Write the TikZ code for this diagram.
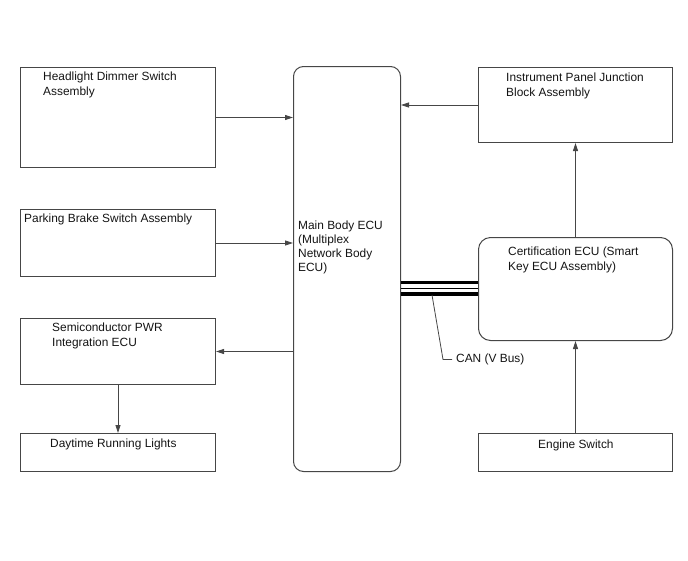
\documentclass[tikz,border=0pt]{standalone}
\usepackage{fontspec}
\setmainfont{Liberation Sans}
\usetikzlibrary{positioning, calc, arrows.meta}
\definecolor{clLine}{RGB}{ 70, 70, 70}
\definecolor{clText}{RGB}{ 20, 20, 20}
\tikzset{
  %% plain box
  blk/.style={
    rectangle, draw=clLine, line width=1pt,
    inner sep=0pt, anchor=north west
  },
  %% rounded box (ECUs)
  rblk/.style={blk, rounded corners=10pt},
  %% box caption (anchored on the baseline of its last line)
  txt/.style={
    anchor=base west, inner sep=0pt, align=left, text=clText,
    font=\fontsize{11.9}{15}\selectfont
  },
  %% arrows
  arr/.style={
    -{Triangle[length=8pt, width=5pt]},
    line width=0.8pt, color=clLine
  },
  bus/.style={line width=#1, color=black},
  lead/.style={line width=0.8pt, color=clLine}
}
\begin{document}
\begin{tikzpicture}[x=1pt, y=-1pt]

\useasboundingbox (0,0) rectangle (688,560);

%% ═══════════════════════════════════════════════════════════════
%%  LEFT COLUMN
%% ═══════════════════════════════════════════════════════════════

\node[blk, minimum width=195pt, minimum height=100pt] (head) at (20,67) {};
\node[txt] (headTxt) at (43,95.7) {Headlight Dimmer Switch\\Assembly};

\node[blk, minimum width=195pt, minimum height=67pt] (park) at (20,209) {};
\node[txt] (parkTxt) at (24,222.7) {Parking Brake Switch Assembly};

\node[blk, minimum width=195pt, minimum height=66pt] (semi) at (20,318) {};
\node[txt] (semiTxt) at (52,346.7) {Semiconductor PWR\\Integration ECU};

\node[blk, minimum width=195pt, minimum height=38pt] (day) at (20,433) {};
\node[txt] (dayTxt) at (50,447.7) {Daytime Running Lights};

%% ═══════════════════════════════════════════════════════════════
%%  MAIN BODY ECU (centre)
%% ═══════════════════════════════════════════════════════════════

\node[rblk, minimum width=107pt, minimum height=405pt] (main) at (293,66) {};
\node[txt, font=\fontsize{11.9}{14.2}\selectfont] (mainTxt) at (298,271.9)
  {Main Body ECU\\(Multiplex\\Network Body\\ECU)};

%% ═══════════════════════════════════════════════════════════════
%%  RIGHT COLUMN
%% ═══════════════════════════════════════════════════════════════

\node[blk, minimum width=194pt, minimum height=75pt] (inst) at (478,67) {};
\node[txt] (instTxt) at (506,96) {Instrument Panel Junction\\Block Assembly};

\node[rblk, rounded corners=12pt, minimum width=194pt, minimum height=103pt] (cert) at (478,237) {};
\node[txt] (certTxt) at (508,270.5) {Certification ECU (Smart\\Key ECU Assembly)};

\node[blk, minimum width=194pt, minimum height=38pt] (eng) at (478,433) {};
\node[txt] (engTxt) at (538,448.7) {Engine Switch};

%% ═══════════════════════════════════════════════════════════════
%%  ARROWS
%% ═══════════════════════════════════════════════════════════════

\draw[arr] (head.east) -- (head.east -| main.west);
\draw[arr] (park.east) -- (park.east -| main.west);
\draw[arr] (semi.east -| main.west) -- (semi.east);
\draw[arr] (semi.south) -- (day.north);

\draw[arr] (inst.west) -- (inst.west -| main.east);
\draw[arr] (cert.north) -- (inst.south);
\draw[arr] (eng.north) -- (cert.south);

%% ═══════════════════════════════════════════════════════════════
%%  CAN BUS
%% ═══════════════════════════════════════════════════════════════

\draw[bus=3.4pt] ($(cert.west)+(0,-6.3)$) -- ($(cert.west -| main.east)+(0,-6.3)$);
\draw[bus=1pt]   ($(cert.west)+(0,-0.3)$) -- ($(cert.west -| main.east)+(0,-0.3)$);
\draw[bus=3.4pt] ($(cert.west)+(0,5)$)    -- ($(cert.west -| main.east)+(0,5)$);

\coordinate (canTap) at (432,295);
\node[txt] (can) at (456,362.5) {CAN (V Bus)};
\draw[lead] (canTap) -- ([xshift=-13pt]can.west) -- ([xshift=-4pt]can.west);

\end{tikzpicture}
\end{document}
